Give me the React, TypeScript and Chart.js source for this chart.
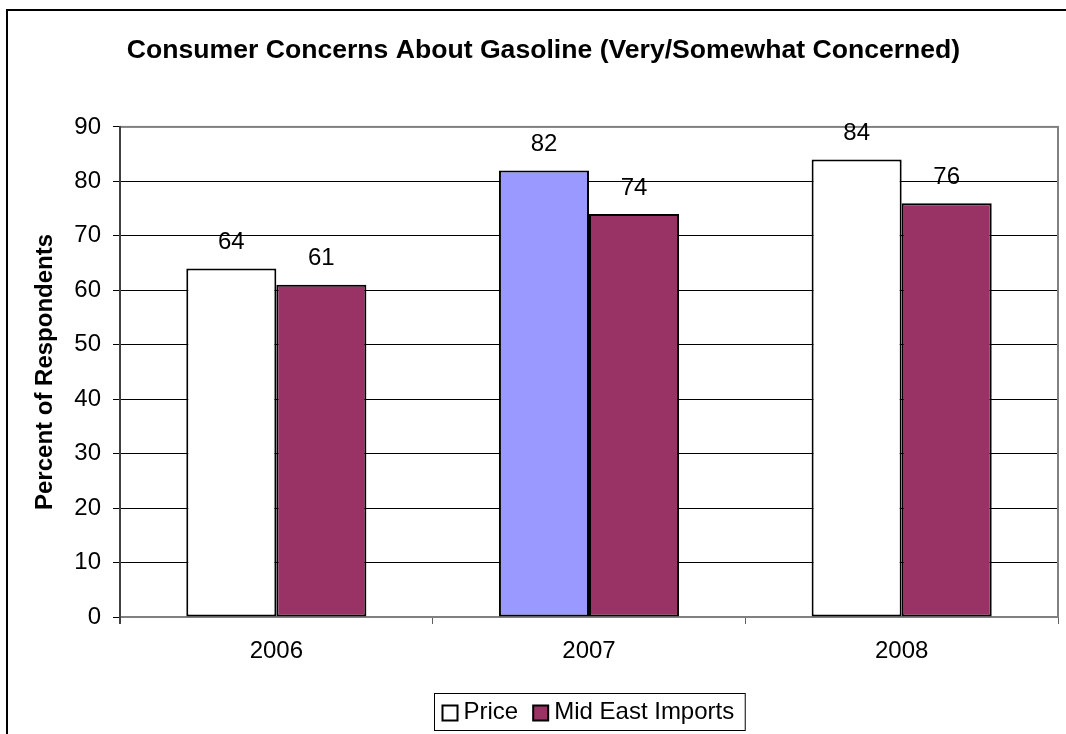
import React, { useEffect, useRef } from "react";
import { Chart, registerables } from "chart.js";

Chart.register(...registerables);

// ---- data ----
const years = ["2006", "2007", "2008"];
const priceValues = [64, 82, 84];
const midEastValues = [61, 74, 76];
const priceBarColors = ["#FFFFFF", "#9999FF", "#FFFFFF"];
const midEastColor = "#993366";
const legendEntries = [
  { label: "Price", color: "#FFFFFF" },
  { label: "Mid East Imports", color: midEastColor },
];
const titleText = "Consumer Concerns About Gasoline (Very/Somewhat Concerned)";
const yAxisTitle = "Percent of Respondents";
const yMin = 0;
const yMax = 90;
const yStep = 10;

const FONT = '"Liberation Sans", Arial, Helvetica, sans-serif';

// white background, outer frame and the grey plot-area border
const framePlugin = {
  id: "frame",
  beforeDraw(chart: any) {
    const { ctx, width, height } = chart;
    ctx.save();
    ctx.fillStyle = "#FFFFFF";
    ctx.fillRect(0, 0, width, height);
    ctx.strokeStyle = "#000000";
    ctx.lineWidth = 2;
    ctx.strokeRect(7, 10, width + 20, height + 20);
    ctx.restore();
  },
  beforeDatasetsDraw(chart: any) {
    const { ctx, chartArea: a } = chart;
    ctx.save();
    ctx.strokeStyle = "#808080";
    ctx.lineWidth = 2;
    ctx.strokeRect(a.left, a.top, a.right - a.left, a.bottom - a.top);
    ctx.strokeStyle = "#404040";
    ctx.beginPath();
    ctx.moveTo(a.left, a.top - 1);
    ctx.lineTo(a.left, a.bottom + 7);
    ctx.stroke();
    ctx.restore();
  },
};

// value labels above each bar
const valueLabelPlugin = {
  id: "valueLabels",
  afterDatasetsDraw(chart: any) {
    const { ctx } = chart;
    ctx.save();
    ctx.font = `24px ${FONT}`;
    ctx.fillStyle = "#000000";
    ctx.textAlign = "center";
    ctx.textBaseline = "middle";
    chart.data.datasets.forEach((ds: any, di: number) => {
      const meta = chart.getDatasetMeta(di);
      meta.data.forEach((bar: any, i: number) => {
        ctx.fillText(String(ds.data[i]), bar.x, bar.y - 26);
      });
    });
    ctx.restore();
  },
};

// boxed legend under the axis, centred on the plot area
const boxedLegendPlugin = {
  id: "boxedLegend",
  afterDraw(chart: any) {
    const { ctx, chartArea: a } = chart;
    ctx.save();
    ctx.font = `24px ${FONT}`;
    const sw = 15;
    const swGap = 6;
    const itemGap = 15;
    const padL = 8;
    const padR = 11;
    const widths = legendEntries.map((e) => ctx.measureText(e.label).width);
    let total = padL + padR + itemGap * (legendEntries.length - 1);
    widths.forEach((w) => (total += sw + swGap + w));
    const cx = (a.left + a.right) / 2;
    const left = Math.round(cx - total / 2) + 0.5;
    const top = a.bottom + 76.5;
    const h = 37;
    ctx.strokeStyle = "#000000";
    ctx.lineWidth = 1;
    ctx.strokeRect(left, top, total, h);
    let x = left + padL;
    legendEntries.forEach((e, i) => {
      ctx.fillStyle = e.color;
      ctx.fillRect(x, top + 12, sw, sw);
      ctx.lineWidth = 2;
      ctx.strokeStyle = "#000000";
      ctx.strokeRect(x, top + 12, sw, sw);
      x += sw + swGap;
      ctx.fillStyle = "#000000";
      ctx.textAlign = "left";
      ctx.textBaseline = "middle";
      ctx.fillText(e.label, x, top + 19);
      x += widths[i] + itemGap;
    });
    ctx.restore();
  },
};

export default function App() {
  const canvasRef = useRef<HTMLCanvasElement | null>(null);

  useEffect(() => {
    if (!canvasRef.current) return;
    const chart = new Chart(canvasRef.current, {
      type: "bar",
      data: {
        labels: years,
        datasets: [
          {
            label: legendEntries[0].label,
            data: priceValues,
            backgroundColor: priceBarColors,
            borderColor: "#000000",
            borderWidth: 2,
            borderSkipped: false,
            categoryPercentage: 0.576,
            barPercentage: 1,
          },
          {
            label: legendEntries[1].label,
            data: midEastValues,
            backgroundColor: midEastColor,
            borderColor: "#000000",
            borderWidth: 2,
            borderSkipped: false,
            categoryPercentage: 0.576,
            barPercentage: 1,
          },
        ],
      },
      options: {
        responsive: false,
        animation: false,
        devicePixelRatio: 1,
        layout: { padding: { top: 0, left: 29, right: 8, bottom: 50 } },
        plugins: {
          legend: { display: false },
          tooltip: { enabled: false },
          title: {
            display: true,
            text: titleText,
            color: "#000000",
            font: { family: FONT, size: 26.6, weight: "bold" },
            padding: { top: 35, bottom: 60 },
          },
        },
        scales: {
          x: {
            grid: {
              display: true,
              drawOnChartArea: false,
              drawTicks: true,
              tickLength: 7,
              tickColor: "#606060",
              offset: true,
            },
            border: { display: false },
            ticks: { color: "#000000", padding: 13, font: { family: FONT, size: 24 } },
            afterFit: (s: any) => {
              s.height = 67;
            },
          },
          y: {
            min: yMin,
            max: yMax,
            grid: {
              color: "#000000",
              lineWidth: 1,
              drawTicks: true,
              tickLength: 7,
              tickColor: "#000000",
            },
            border: { display: false },
            ticks: {
              stepSize: yStep,
              color: "#000000",
              padding: 12,
              font: { family: FONT, size: 24 },
            },
            title: {
              display: true,
              text: yAxisTitle,
              color: "#000000",
              font: { family: FONT, size: 24, weight: "bold" },
              padding: { top: 2, bottom: 0 },
            },
            afterFit: (s: any) => {
              s.width = 91;
            },
          },
        },
      },
      plugins: [framePlugin, valueLabelPlugin, boxedLegendPlugin],
    });
    return () => chart.destroy();
  }, []);

  return (
    <canvas
      ref={canvasRef}
      width={1066}
      height={734}
      style={{ position: "absolute", left: 0, top: 0, display: "block" }}
    />
  );
}
